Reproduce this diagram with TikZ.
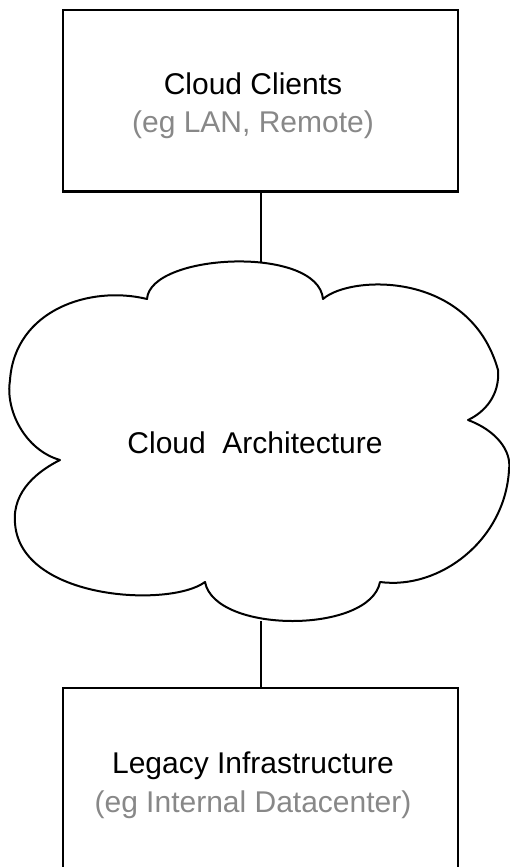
\documentclass[tikz,border=0pt]{standalone}
\usepackage{fontspec}
\setmainfont{Liberation Sans}
\definecolor{subgray}{RGB}{136,136,136}
\begin{document}
\begin{tikzpicture}[x=1pt,y=-1pt,
  layerbox/.style={draw=black,line width=2.4pt,minimum width=395pt,inner sep=0pt,outer sep=0pt},
  title/.style={anchor=base,font=\fontsize{30}{36}\selectfont,text=black},
  subtitle/.style={anchor=base,font=\fontsize{30}{36}\selectfont,text=subgray},
  link/.style={draw=black,line width=2pt},
  cloudline/.style={draw=black,line width=2pt,line join=round}]
\useasboundingbox (0,0) rectangle (510,867);
\clip (0,0) rectangle (510,867);

% upper box: cloud clients
\node[layerbox,minimum height=181.5pt] (clients) at (260.5,100.8) {};
\node[title] (clientsT) at (253,94) {Cloud Clients};
\node[subtitle] (clientsS) at (253,132) {(eg LAN, Remote)};

% lower box: legacy infrastructure (runs past the lower edge)
\node[layerbox,minimum height=200pt] (legacy) at (260.5,788) {};
\node[title] (legacyT) at (253,773) {Legacy Infrastructure};
\node[subtitle] (legacyS) at (253,812) {(eg Internal Datacenter)};

% cloud outline made of six lobes
\path[cloudline]
  (147,299) .. controls (150,253) and (318,245) .. (323,299)
  .. controls (350,275) and (470,270) .. (498,370)
  .. controls (500,395) and (485,412) .. (468,420)
  .. controls (495,430) and (512,450) .. (509,470)
  .. controls (505,540) and (440,590) .. (380,582)
  .. controls (370,634) and (215,634) .. (205,582)
  .. controls (170,608) and (20,600) .. (15,523)
  .. controls (12,490) and (40,470) .. (60,460)
  .. controls (25,450) and (5,410) .. (10,380)
  .. controls (15,310) and (90,285) .. (147,299) -- cycle;
\coordinate (cloudtop) at (261,261.5);
\coordinate (cloudbot) at (261,621);
\node[title] (arch) at (255,453) {Cloud\ \ Architecture};

% connectors
\path[link] (clients.south -| cloudtop) -- (cloudtop);
\path[link] (cloudbot) -- (legacy.north -| cloudbot);
\end{tikzpicture}
\end{document}
